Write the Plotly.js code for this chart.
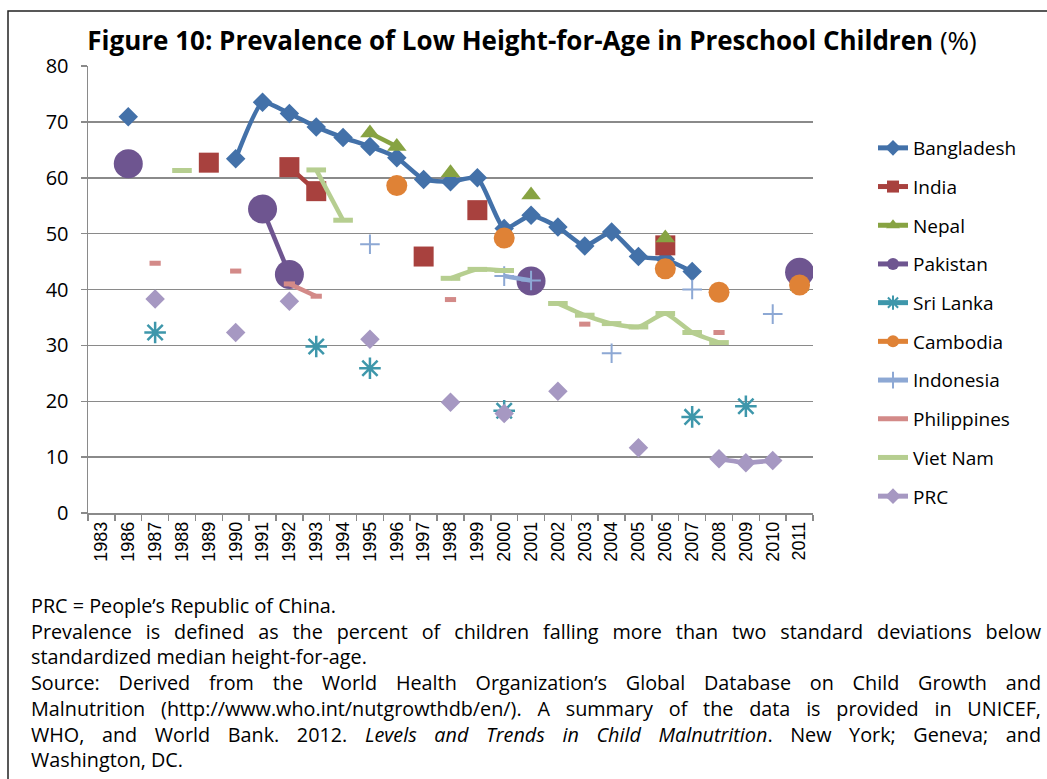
<!DOCTYPE html>
<html>
<head>
<meta charset="utf-8">
<script src="https://cdn.plot.ly/plotly-3.0.1.min.js"></script>
<style>html,body{margin:0;padding:0;background:#fff;}#chart{width:1047px;height:779px;}</style>
</head>
<body>
<div id="chart"></div>
<script>
// ---------- data ----------
var years = ['1983','1986','1987','1988','1989','1990','1991','1992','1993','1994','1995','1996','1997','1998','1999','2000','2001','2002','2003','2004','2005','2006','2007','2008','2009','2010','2011'];
//                  1983 1986  1987 1988 1989 1990 1991 1992 1993 1994 1995 1996 1997 1998 1999 2000 2001 2002 2003 2004 2005 2006 2007 2008 2009 2010 2011
var bangladesh  = [null,70.9,null,null,null,63.4,73.5,71.5,69.1,67.2,65.6,63.6,59.7,59.3,60.0,50.9,53.3,51.2,47.8,50.3,45.9,45.4,43.2,null,null,null,null];
var india       = [null,null,null,null,62.7,null,null,61.9,57.6,null,null,null,45.9,null,54.2,null,null,null,null,null,null,47.9,null,null,null,null,null];
var nepal       = [null,null,null,null,null,null,null,null,null,null,68.0,65.6,null,60.9,null,null,56.9,null,null,null,null,49.2,null,null,null,null,40.5];
var pakistan    = [null,62.5,null,null,null,null,54.4,42.7,null,null,null,null,null,null,null,null,41.5,null,null,null,null,null,null,null,null,null,43.1];
var sriLanka    = [null,null,32.3,null,null,null,null,null,29.8,null,25.9,null,null,null,null,18.3,null,null,null,null,null,null,17.2,null,19.1,null,null];
var cambodia    = [null,null,null,null,null,null,null,null,null,null,null,58.6,null,null,null,49.2,null,null,null,null,null,43.7,null,39.5,null,null,40.8];
var indonesia   = [null,null,null,null,null,null,null,null,null,null,48.1,null,null,null,null,42.4,41.6,null,null,28.6,null,null,40.0,null,null,35.6,null];
var philippines = [null,null,44.7,null,null,43.3,null,41.0,38.8,null,null,null,null,38.2,null,null,null,null,33.8,null,null,null,null,32.3,null,null,null];
var vietNam     = [null,null,null,61.3,null,null,null,null,61.4,52.4,null,null,null,42.0,43.6,43.4,null,37.5,35.4,33.9,33.3,35.7,32.3,30.5,null,null,null];
var prc         = [null,null,38.3,null,null,32.3,null,37.9,null,null,31.1,null,null,19.8,null,17.8,null,21.8,null,null,11.7,null,null,9.7,9.0,9.4,null];

var seriesNames = ['Bangladesh','India','Nepal','Pakistan','Sri Lanka','Cambodia','Indonesia','Philippines','Viet Nam','PRC'];
var seriesData  = [bangladesh, india, nepal, pakistan, sriLanka, cambodia, indonesia, philippines, vietNam, prc];

var titleText = '<b>Figure 10: Prevalence of Low Height-for-Age in Preschool Children</b> (%)';
var noteLines = [
  'PRC = People\u2019s Republic of China.',
  'Prevalence is defined as the percent of children falling more than two standard deviations below',
  'standardized median height-for-age.',
  'Source: Derived from the World Health Organization\u2019s Global Database on Child Growth and',
  'Malnutrition (http://www.who.int/nutgrowthdb/en/). A summary of the data is provided in UNICEF,',
  'WHO, and World Bank. 2012. <i>Levels and Trends in Child Malnutrition</i>. New York; Geneva; and',
  'Washington, DC.'
];
var justifyLine = [false,true,false,true,true,true,false];

// ---------- styles ----------
var styles = [
  {color:'#4371A9', symbol:'diamond', size:15, lw:4.5},
  {color:'#A8413E', symbol:'square', size:20, lw:4.5},
  {color:'#87A342', symbol:'triangle-up', size:17, lw:4.5},
  {color:'#6E5590', symbol:'circle', size:29, lw:4.5},
  {color:'#3E97AB', symbol:'asterisk-open', size:18, lw:4.5, mlw:2.5},
  {color:'#DF8236', symbol:'circle', size:21, lw:4.5},
  {color:'#8DA8D4', symbol:'cross-thin-open', size:14, lw:4.5, mlw:2},
  {color:'#D38A88', symbol:'line-ew-open', size:8, lw:4.5, mlw:5},
  {color:'#B6CE90', symbol:'line-ew-open', size:14, lw:4.5, mlw:5},
  {color:'#A698C2', symbol:'diamond', size:15, lw:4.5}
];

var L = 88, R = 813, T = 66, B = 513;
function px2x(px){ return (px - L) / (R - L); }
function px2y(py){ return (B - py) / (B - T); }

var traces = seriesNames.map(function(name, i){
  var s = styles[i];
  var marker = {symbol: s.symbol, size: s.size, color: s.color};
  if (s.mlw) marker.line = {color: s.color, width: s.mlw};
  else marker.line = {width: 0};
  return {
    type: 'scatter', mode: 'lines+markers', name: name,
    x: years, y: seriesData[i],
    line: {color: s.color, width: s.lw, shape: 'spline', smoothing: 0.5},
    marker: marker,
    connectgaps: false,
    legendgroup: 'g' + i,
    hoverinfo: 'x+y+name'
  };
});

var annotations = [{
  xref: 'paper', yref: 'paper', x: px2x(29), y: px2y(590),
  xanchor: 'left', yanchor: 'top', showarrow: false, align: 'left',
  text: noteLines.join('<br>'),
  font: {family: 'Open Sans, sans-serif', size: 19.8, color: '#000'}
}];

var layout = {
  width: 1047, height: 779,
  margin: {l: L, r: 1047 - R, t: T, b: 779 - B, pad: 0},
  paper_bgcolor: '#fff', plot_bgcolor: '#fff',
  title: {
    text: titleText, x: 532/1047, xanchor: 'center', xref: 'container',
    y: 1 - 41/779, yanchor: 'middle', yref: 'container',
    font: {family: 'Open Sans, sans-serif', size: 26, color: '#000'}
  },
  xaxis: {
    type: 'category', categoryorder: 'array', categoryarray: years,
    range: [-0.5, years.length - 0.5],
    tickson: 'boundaries', ticks: 'outside', ticklen: 6, tickwidth: 1.5, tickcolor: '#8a8a8a',
    showline: true, linecolor: '#8a8a8a', linewidth: 1.5,
    showgrid: false, tickangle: -90,
    tickfont: {family: 'Liberation Sans, Arial, sans-serif', size: 18, color: '#000'},
    fixedrange: true
  },
  yaxis: {
    range: [0, 80], dtick: 10, tick0: 0,
    ticks: 'outside', ticklen: 6, tickwidth: 1.5, tickcolor: '#8a8a8a',
    ticklabelstandoff: 8,
    showline: true, linecolor: '#8a8a8a', linewidth: 1.5,
    showgrid: true, gridcolor: '#8a8a8a', gridwidth: 1.5, zeroline: false,
    tickfont: {family: 'Open Sans, sans-serif', size: 20, color: '#000'},
    fixedrange: true
  },
  showlegend: true,
  legend: {
    x: px2x(873), xanchor: 'left', y: px2y(129), yanchor: 'top',
    font: {family: 'Open Sans, sans-serif', size: 19, color: '#000'},
    itemsizing: 'constant',
    tracegroupgap: 11, bgcolor: 'rgba(0,0,0,0)', borderwidth: 0
  },
  annotations: annotations,
  shapes: [{
    type: 'rect', xref: 'paper', yref: 'paper',
    x0: px2x(8), x1: px2x(1060), y0: px2y(800), y1: px2y(11),
    line: {color: '#222', width: 1.5}, fillcolor: 'rgba(0,0,0,0)', layer: 'below'
  }]
};

Plotly.newPlot('chart', traces, layout, {displayModeBar: false, staticPlot: true}).then(function(){
  var textEl = document.querySelector('#chart .annotation-text');
  if (!textEl) return;
  var lines = textEl.querySelectorAll('tspan.line');
  var target = 1040 - 30;
  lines.forEach(function(ln, i){
    if (!justifyLine[i]) return;
    var w = ln.getComputedTextLength();
    var n = (ln.textContent.match(/ /g) || []).length;
    if (n > 0 && w < target) {
      ln.style.wordSpacing = ((target - w) / n) + 'px';
    }
  });
});
</script>
</body>
</html>
